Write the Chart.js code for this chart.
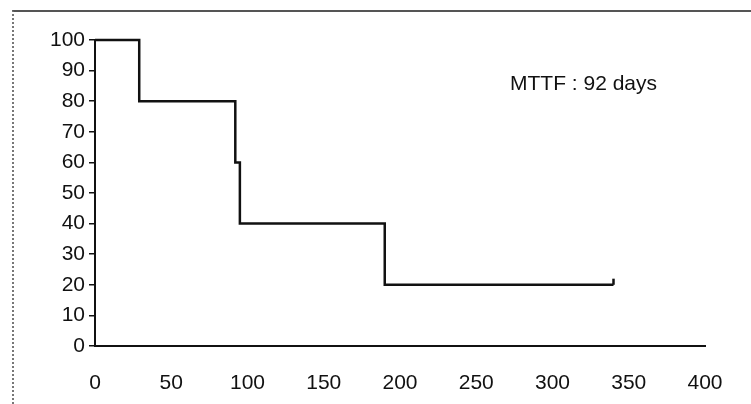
<!DOCTYPE html>
<html lang="en">
<head>
  <meta charset="UTF-8">
  <title>MTTF</title>
  <style>
    body { margin: 0; background: #fff; }
    .wrap { position: relative; width: 751px; height: 404px; }
    .frame {
      position: absolute; left: 12px; top: 10px; right: 0; bottom: -4px;
      border-top: 2px solid #555;
      border-left: 2px dotted #777;
    }
    canvas { position: absolute; left: 0; top: 0; }
  </style>
</head>
<body>
  <div class="wrap">
    <div class="frame"></div>
    <canvas id="grafico" width="751" height="404"></canvas>
  </div>
  <script src="https://cdn.jsdelivr.net/npm/chart.js"></script>
  <script>
    // survival steps (% still running) at each failure time, in days
    const days = [0, 29, 92, 95, 190, 340];
    const survival = [100, 80, 60, 40, 20, 20];
    // censored unit at the end of follow-up
    const censorDay = 340;
    const censorMark = [20, 22];

    const xTicks = [0, 50, 100, 150, 200, 250, 300, 350, 400];
    const yTicks = [0, 10, 20, 30, 40, 50, 60, 70, 80, 90, 100];
    const note = 'MTTF : 92 days';

    const fonte = { family: "'Liberation Sans', Arial, sans-serif", size: 21 };

    const textoMTTF = {
      id: 'textoMTTF',
      afterDraw(chart) {
        const ctx = chart.ctx;
        ctx.save();
        ctx.font = "21px 'Liberation Sans', Arial, sans-serif";
        ctx.fillStyle = '#111';
        ctx.textBaseline = 'middle';
        ctx.fillText(note, 510, 84);
        ctx.restore();
      }
    };

    new Chart(document.getElementById('grafico'), {
      type: 'line',
      data: {
        datasets: [{
          data: days.map((d, i) => ({ x: d, y: survival[i] })),
          stepped: 'before',
          borderColor: '#111',
          borderWidth: 2.5,
          pointRadius: 0,
          fill: false,
          clip: false
        }, {
          data: censorMark.map(v => ({ x: censorDay, y: v })),
          borderColor: '#111',
          borderWidth: 2.5,
          pointRadius: 0,
          fill: false,
          clip: false
        }]
      },
      options: {
        responsive: false,
        animation: false,
        layout: { padding: { top: 40, right: 46, left: 0, bottom: 0 } },
        plugins: { legend: { display: false }, tooltip: { enabled: false } },
        scales: {
          x: {
            type: 'linear',
            min: 0, max: 400,
            afterBuildTicks: s => { s.ticks = xTicks.map(v => ({ value: v })); },
            afterFit: s => { s.height = 58; },
            grid: { display: false, drawTicks: false },
            border: { display: true, color: '#111', width: 2 },
            ticks: { color: '#111', font: fonte, padding: 25, maxRotation: 0 }
          },
          y: {
            min: 0, max: 100,
            afterBuildTicks: s => { s.ticks = yTicks.map(v => ({ value: v })); },
            afterFit: s => { s.width = 95; },
            grid: { drawOnChartArea: false, drawTicks: true, tickLength: 6, color: '#111', lineWidth: 1.5 },
            border: { display: true, color: '#111', width: 2 },
            ticks: { color: '#111', font: fonte, padding: 4 }
          }
        }
      },
      plugins: [textoMTTF]
    });
  </script>
</body>
</html>
